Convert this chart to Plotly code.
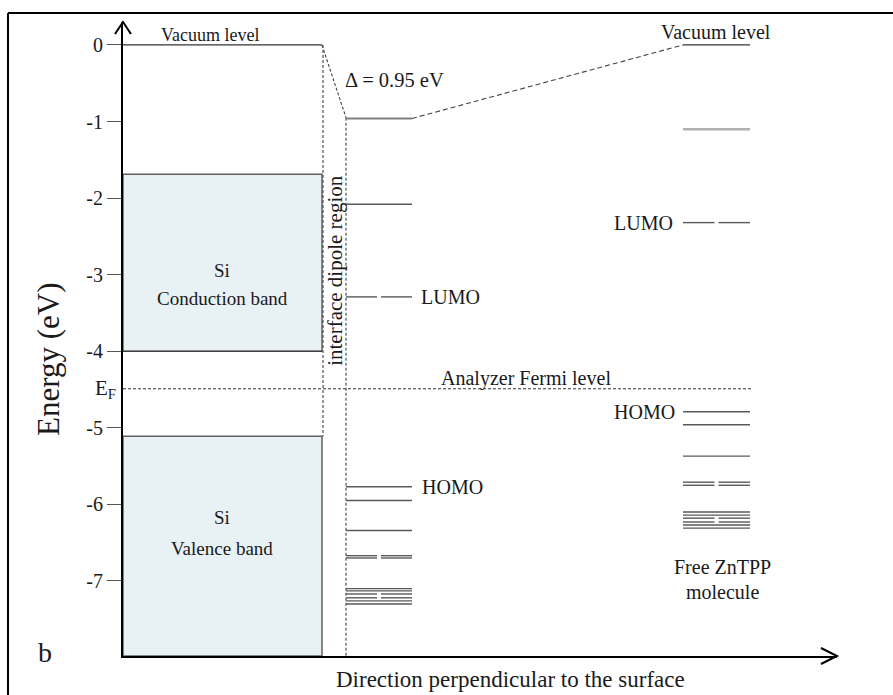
import plotly.graph_objects as go

# ---------------- data ----------------
y_ticks = [0, -1, -2, -3, -4, -5, -6, -7]
y_ticklabels = ["0", "-1", "-2", "-3", "-4", "-5", "-6", "-7"]

fermi_level = -4.49
vacuum_level = 0.0
dipole_shift = -0.95

si_cb_top, si_cb_bottom = -1.69, -4.00
si_vb_top = -5.11

iface_E = [-0.96, -2.08, -3.29, -5.77, -5.95, -6.34, -6.67, -6.70,
           -7.10, -7.13, -7.17, -7.22, -7.26, -7.30]
iface_split = [0, 0, 1, 0, 0, 0, 1, 1, 0, 0, 1, 1, 0, 0]

mol_E = [-1.10, -2.32, -4.79, -4.96, -5.37, -5.71, -5.75,
         -6.10, -6.14, -6.18, -6.23, -6.27, -6.31]
mol_split = [0, 1, 0, 0, 0, 1, 1, 0, 0, 1, 1, 0, 0]

# ---------------- layout geometry ----------------
FW, FH = 893, 695
L, R, T, B = 123, 837, 22, 656
PW, PH = R - L, B - T
Y_MIN, Y_MAX = -7.98, 0.30
FONT = "Liberation Serif, Times New Roman, serif"
TXT = "#1a1a1a"

# x positions (plot units = pixels from y-axis)
SI_X0, SI_X1 = 0, 199
DIP_X0, DIP_X1 = 200, 223
IF_X0, IF_X1 = 223, 289
MOL_X0, MOL_X1 = 560, 627
FERMI_X1 = 630


def px(p):
    return (p - L) / PW


def py(p):
    return (B - p) / PH


def level_xy(E, split, x0, x1, gap=4):
    xs, ys = [], []
    mid = (x0 + x1) / 2
    for e, s in zip(E, split):
        if s:
            xs += [x0, mid - gap / 2, None, mid + gap / 2, x1, None]
            ys += [e, e, None, e, e, None]
        else:
            xs += [x0, x1, None]
            ys += [e, e, None]
    return xs, ys


fig = go.Figure()

# Si bands
fig.add_trace(go.Scatter(
    x=[SI_X0, SI_X1, SI_X1, SI_X0, SI_X0],
    y=[si_cb_top, si_cb_top, si_cb_bottom, si_cb_bottom, si_cb_top],
    fill="toself", fillcolor="#e8f1f4", mode="lines",
    line=dict(color="#606060", width=1.5), hoverinfo="skip", showlegend=False))
fig.add_trace(go.Scatter(
    x=[SI_X0, SI_X1, SI_X1, SI_X0, SI_X0],
    y=[si_vb_top, si_vb_top, Y_MIN, Y_MIN, si_vb_top],
    fill="toself", fillcolor="#e8f1f4", mode="lines",
    line=dict(color="#606060", width=1.5), hoverinfo="skip", showlegend=False))
fig.add_trace(go.Scatter(x=[SI_X0, SI_X1], y=[si_cb_bottom, si_cb_bottom], mode="lines",
                         line=dict(color="#333333", width=1.2), hoverinfo="skip", showlegend=False))

# vacuum level (Si)
fig.add_trace(go.Scatter(x=[SI_X0, SI_X1], y=[vacuum_level, vacuum_level], mode="lines",
                         line=dict(color="#333333", width=1.2), hoverinfo="skip", showlegend=False))

# dashed guide lines
dash_style = dict(color="#444444", width=1.1, dash="3px,2px")
fig.add_trace(go.Scatter(x=[SI_X1, DIP_X1], y=[vacuum_level, dipole_shift], mode="lines",
                         line=dash_style, hoverinfo="skip", showlegend=False))
fig.add_trace(go.Scatter(x=[DIP_X0, DIP_X0], y=[vacuum_level, si_vb_top], mode="lines",
                         line=dash_style, hoverinfo="skip", showlegend=False))
fig.add_trace(go.Scatter(x=[DIP_X1, DIP_X1], y=[dipole_shift, Y_MIN], mode="lines",
                         line=dash_style, hoverinfo="skip", showlegend=False))
fig.add_trace(go.Scatter(x=[IF_X1, MOL_X0], y=[iface_E[0], vacuum_level], mode="lines",
                         line=dict(color="#444444", width=1.1, dash="5px,3px"),
                         hoverinfo="skip", showlegend=False))
# Fermi level
fig.add_trace(go.Scatter(x=[-5, FERMI_X1], y=[fermi_level, fermi_level], mode="lines",
                         line=dict(color="#333333", width=1, dash="3px,2px"),
                         hoverinfo="skip", showlegend=False, cliponaxis=False))

# interface levels
xs, ys = level_xy(iface_E[1:], iface_split[1:], IF_X0, IF_X1)
fig.add_trace(go.Scatter(x=xs, y=ys, mode="lines", line=dict(color="#5a5a5a", width=1.4),
                         hoverinfo="skip", showlegend=False))
fig.add_trace(go.Scatter(x=[IF_X0, IF_X1], y=[iface_E[0], iface_E[0]], mode="lines",
                         line=dict(color="#808080", width=2), hoverinfo="skip", showlegend=False))

# free molecule levels
xs, ys = level_xy(mol_E[1:], mol_split[1:], MOL_X0, MOL_X1)
fig.add_trace(go.Scatter(x=xs, y=ys, mode="lines", line=dict(color="#5a5a5a", width=1.4),
                         hoverinfo="skip", showlegend=False))
fig.add_trace(go.Scatter(x=[MOL_X0, MOL_X1], y=[mol_E[0], mol_E[0]], mode="lines",
                         line=dict(color="#b0b0b0", width=2.5), hoverinfo="skip", showlegend=False))
fig.add_trace(go.Scatter(x=[MOL_X0, MOL_X1], y=[vacuum_level, vacuum_level], mode="lines",
                         line=dict(color="#333333", width=1.2), hoverinfo="skip", showlegend=False))

# ---------------- annotations ----------------
ann = []


def A(text, x, y, size, xanchor="center", yanchor="middle", xref="x", yref="y", **kw):
    ann.append(dict(text=text, x=x, y=y, xref=xref, yref=yref, showarrow=False,
                    xanchor=xanchor, yanchor=yanchor,
                    font=dict(family=FONT, size=size, color=TXT), **kw))


A("Vacuum level", 87, vacuum_level, 18, yanchor="bottom", yshift=-2)
A("Δ = 0.95 eV", 271, -0.46, 20.5)
A("interface dipole region", 212, -2.95, 21, textangle=-90)
A("LUMO", 296, iface_E[2], 20, xanchor="left")
A("HOMO", 297, iface_E[3], 20, xanchor="left")
A("Si", 99, -2.94, 19)
A("Conduction band", 99, -3.31, 19)
A("Si", 99, -6.17, 19)
A("Valence band", 99, -6.58, 19)
A("Analyzer Fermi level", 403, fermi_level, 20, yanchor="bottom", yshift=-3)
A("Vacuum level", 593, 0.17, 20)
A("LUMO", 552, mol_E[1], 20, xanchor="right")
A("HOMO", 554, mol_E[2], 20, xanchor="right")
A("Free ZnTPP", 599, -6.82, 20)
A("molecule", 599, -7.15, 20)
A("E<sub>F</sub>", px(118), fermi_level, 21, xanchor="right", xref="paper")
A("Energy (eV)", px(48), py(359), 31, xref="paper", yref="paper", textangle=-90)
A("Direction perpendicular to the surface", px(510), py(679), 23,
  xref="paper", yref="paper")
A("b", px(45), py(652), 28, xref="paper", yref="paper")

# ---------------- shapes: frame and axis arrows ----------------
shapes = [
    dict(type="line", xref="paper", yref="paper", x0=px(8), y0=py(13), x1=px(FW + 5), y1=py(13),
         line=dict(color="black", width=2)),
    dict(type="line", xref="paper", yref="paper", x0=px(8), y0=py(13), x1=px(8), y1=py(FH + 5),
         line=dict(color="black", width=2)),
    dict(type="path", xref="paper", yref="paper",
         path=f"M {px(L-8)},{py(T+12)} L {px(L)},{py(T)} L {px(L+8)},{py(T+12)}",
         line=dict(color="black", width=2)),
    dict(type="path", xref="paper", yref="paper",
         path=f"M {px(R-16)},{py(B-8)} L {px(R)},{py(B)} L {px(R-16)},{py(B+8)}",
         line=dict(color="black", width=2)),
]

fig.update_layout(
    width=FW, height=FH,
    margin=dict(l=L, r=FW - R, t=T, b=FH - B),
    paper_bgcolor="white", plot_bgcolor="white",
    showlegend=False,
    annotations=ann, shapes=shapes,
    xaxis=dict(range=[0, PW], showgrid=False, zeroline=False, showticklabels=False,
               ticks="", showline=True, linecolor="black", linewidth=2, fixedrange=True),
    yaxis=dict(range=[Y_MIN, Y_MAX], showgrid=False, zeroline=False,
               tickvals=y_ticks, ticktext=y_ticklabels, ticks="outside", ticklen=14,
               tickwidth=1, tickcolor="#555555",
               tickfont=dict(family=FONT, size=20, color=TXT),
               showline=True, linecolor="black", linewidth=2, fixedrange=True),
)

fig.write_html("out.html")
